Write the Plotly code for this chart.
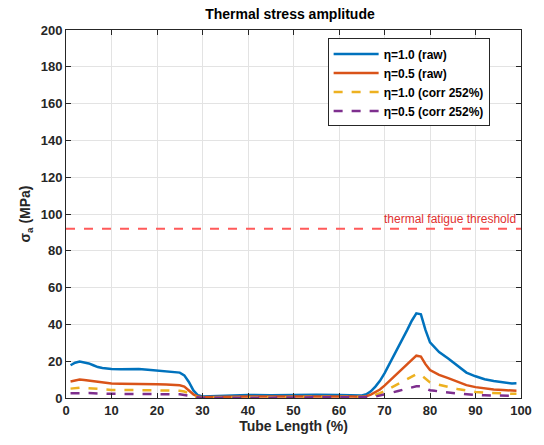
import plotly.graph_objects as go

x = [1,2,3,4,5,6,7,8,9,10,12,14,16,18,20,22,24,25,26,27,28,29,30,32,35,40,45,50,55,60,63,65,66,67,68,69,70,71,72,73,74,75,76,77,78,79,80,81,82,84,86,88,90,92,94,96,98,99]

blue = [17.8,19.2,19.8,19.3,18.8,17.8,16.8,16.3,16,15.8,15.6,15.6,15.8,15.3,14.8,14.5,14.1,13.8,12.3,8.7,4.1,1.5,0.8,1,1.3,1.6,1.5,1.8,1.8,1.6,1.5,1.4,2,3.6,6.2,9.3,13.4,18,22.7,27.3,32,37,42,46,45.5,37,30.2,27.6,25,21.5,17.4,13.8,11.8,10.2,9.2,8.5,7.9,8]
orange = [9,9.7,10,9.8,9.5,9,8.5,8.2,8,7.9,7.8,7.8,7.9,7.7,7.5,7.3,7.1,6.9,6.2,4.3,2,0.8,0.4,0.5,0.7,0.8,0.8,0.9,0.9,0.8,0.8,0.7,1,1.8,3.1,4.6,6.7,9,11.3,13.6,15.9,18.5,21,23,22.5,18.4,15.2,13.8,12.6,10.8,8.7,7,5.9,5.1,4.6,4.3,4,4]
yellow = [5.1,5.4,5.6,5.5,5.3,5,4.7,4.6,4.5,4.4,4.4,4.4,4.4,4.3,4.2,4.1,4,3.9,3.5,2.5,1.1,0.4,0.2,0.3,0.4,0.4,0.4,0.5,0.5,0.4,0.4,0.4,0.6,1,1.7,2.6,3.7,5,6.4,7.6,8.9,10.4,11.8,12.9,12.6,10.4,8.5,7.8,7.1,6,4.9,3.9,3.3,2.9,2.6,2.4,2.3,2.3]
purple = [2.6,2.7,2.9,2.8,2.7,2.6,2.4,2.3,2.3,2.3,2.2,2.2,2.3,2.2,2.1,2.1,2,2,1.8,1.2,0.6,0.2,0.1,0.1,0.2,0.2,0.2,0.3,0.3,0.2,0.2,0.2,0.3,0.5,0.8,1.3,1.9,2.6,3.2,3.8,4.4,5.1,5.8,6.4,6.3,5.1,4.2,3.9,3.5,3,2.5,2,1.7,1.5,1.3,1.2,1.1,1.1]

names = ["η=1.0 (raw)", "η=0.5 (raw)", "η=1.0 (corr 252%)", "η=0.5 (corr 252%)"]
threshold = 92
threshold_label = "thermal fatigue threshold"
x_ticks = list(range(0, 101, 10))
y_ticks = list(range(0, 201, 20))

colors = ["#0072BD", "#D95319", "#EDB120", "#7E2F8E"]
dashes = ["solid", "solid", "dash", "dash"]
FONT = "Liberation Sans, Arial"

fig = go.Figure()
for ys, nm, c, d in zip([blue, orange, yellow, purple], names, colors, dashes):
    fig.add_trace(go.Scatter(x=x, y=ys, mode="lines", name=f"<b>{nm}</b>",
                             line=dict(color=c, width=2.5, dash=d)))

fig.add_shape(type="line", xref="x", yref="y", x0=0, x1=100, y0=threshold, y1=threshold,
              line=dict(color="#FF5A5A", width=2, dash="dash"))
fig.add_annotation(x=100, y=threshold, xref="x", yref="y", text=threshold_label,
                   showarrow=False, xanchor="right", yanchor="bottom", yshift=1, xshift=-3,
                   font=dict(color="#E03030", size=12, family=FONT))

axis_common = dict(showline=True, linecolor="#262626", linewidth=1, mirror="ticks",
                   ticks="inside", ticklen=5, tickcolor="#262626",
                   showgrid=True, gridcolor="#E3E3E3", gridwidth=1, zeroline=False,
                   tickfont=dict(size=13, color="#262626", family=FONT))

fig.update_layout(
    width=544, height=445,
    margin=dict(l=66, r=12, t=30, b=47),
    paper_bgcolor="white", plot_bgcolor="white",
    font=dict(family=FONT, color="#262626"),
    title=dict(text="<b>Thermal stress amplitude</b>", x=0.533, xanchor="center",
               y=0.968, yanchor="middle", font=dict(size=14, color="#000000")),
    xaxis=dict(range=[0, 100], title=dict(text="<b>Tube Length (%)</b>", standoff=4,
               font=dict(size=14, color="#262626")),
               tickvals=x_ticks, ticktext=[f"<b>{v}</b>" for v in x_ticks], **axis_common),
    yaxis=dict(range=[0, 200], title=dict(text="<b>σ<sub>a</sub> (MPa)</b>", standoff=6,
               font=dict(size=14, color="#262626")),
               tickvals=y_ticks, ticktext=[f"<b>{v}</b>" for v in y_ticks], **axis_common),
    legend=dict(x=0.575, y=0.977, xanchor="left", yanchor="top",
                bordercolor="#262626", borderwidth=1, bgcolor="white",
                font=dict(size=12, color="#000000", family=FONT), tracegroupgap=0,
                itemwidth=45),
    showlegend=True,
)

fig.write_html("out.html")
